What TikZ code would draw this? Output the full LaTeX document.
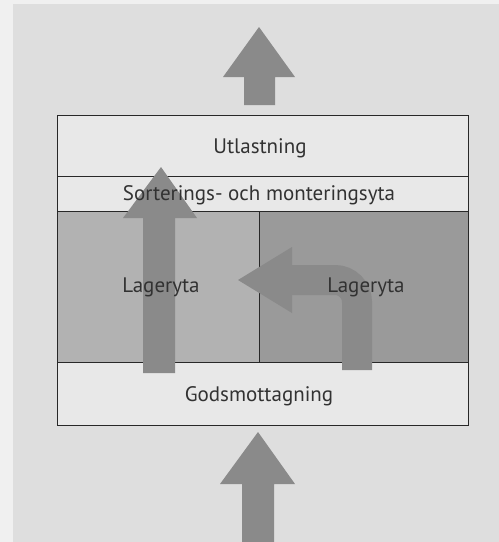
\documentclass[tikz,border=0pt]{standalone}
\usepackage{fontspec}
\setmainfont{PT Sans}
\definecolor{pagegray}{RGB}{222,222,222}
\definecolor{margin}{RGB}{240,240,240}
\definecolor{boxwhite}{RGB}{232,232,232}
\definecolor{storeleft}{RGB}{178,178,178}
\definecolor{storeright}{RGB}{154,154,154}
\definecolor{arrowgray}{RGB}{138,138,138}
\definecolor{linegray}{RGB}{40,40,40}
\definecolor{textgray}{RGB}{50,50,50}
\tikzset{
  zone/.style={draw=linegray, line width=1.1pt, inner sep=0pt, anchor=north west},
  zlabel/.style={text=textgray, font=\fontsize{21}{23}\selectfont, inner sep=0pt},
  bigarrow/.style={fill=arrowgray, draw=none},
}
\begin{document}
\begin{tikzpicture}[x=1pt,y=-1pt]
\useasboundingbox (0,0) rectangle (499,542);
\fill[margin] (0,0) rectangle (499,542);
\fill[pagegray] (13,4) rectangle (499,542);
% zones
\node[zone, fill=boxwhite, minimum width=411pt, minimum height=61pt] (utl) at (57,115) {};
\node[zone, fill=boxwhite, minimum width=411pt, minimum height=35pt] (sort) at (57,176) {};
\node[zone, fill=storeleft, minimum width=202pt, minimum height=151pt] (lagL) at (57,211) {};
\node[zone, fill=storeright, minimum width=209pt, minimum height=151pt] (lagR) at (259,211) {};
\node[zone, fill=boxwhite, minimum width=411pt, minimum height=63pt] (gods) at (57,362) {};
% arrows
\fill[bigarrow] (244,105) -- (244,77) -- (223,77) -- (259,27) -- (295,77) -- (275,77) -- (275,105) -- cycle;
\fill[bigarrow] (242,542) -- (242,484) -- (220,484) -- (258,432) -- (295,484) -- (274,484) -- (274,542) -- cycle;
\fill[bigarrow] (143,373) -- (143,218) -- (123,218) -- (161,167) -- (197,218) -- (175,218) -- (175,373) -- cycle;
\draw[arrowgray, line width=30pt, rounded corners=22pt] (357,370) -- (357,280) -- (291,280);
\fill[bigarrow] (292,247) -- (238,280) -- (292,313) -- cycle;
% labels
\node[zlabel] (tUtl) at (260,148) {Utlastning};
\node[zlabel] (tSort) at (259,195) {Sorterings- och monteringsyta};
\node[zlabel] (tLagL) at (161,287) {Lageryta};
\node[zlabel] (tLagR) at (366,287) {Lageryta};
\node[zlabel] (tGods) at (259,396) {Godsmottagning};
\end{tikzpicture}
\end{document}
